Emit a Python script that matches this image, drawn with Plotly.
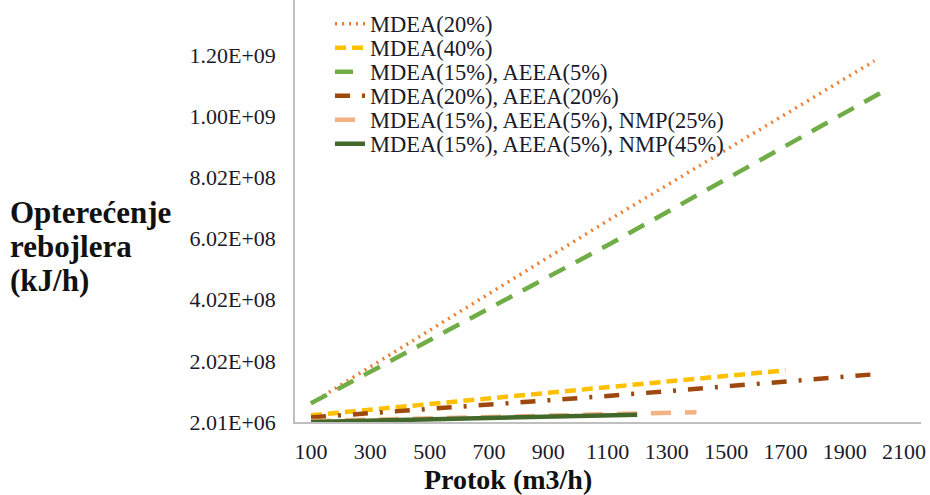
import plotly.graph_objects as go

# Data
series_names = [
    "MDEA(20%)",
    "MDEA(40%)",
    "MDEA(15%), AEEA(5%)",
    "MDEA(20%), AEEA(20%)",
    "MDEA(15%), AEEA(5%), NMP(25%)",
    "MDEA(15%), AEEA(5%), NMP(45%)",
]
x_mdea20 = [100, 1100, 2000]
y_mdea20 = [6.3e7, 6.6e8, 1.183e9]
x_mdea40 = [100, 1100, 1700]
y_mdea40 = [2.4e7, 1.16e8, 1.71e8]
x_mdea15_aeea5 = [100, 1100, 2050]
y_mdea15_aeea5 = [6.3e7, 5.8e8, 1.094e9]
x_mdea20_aeea20 = [100, 1100, 2000]
y_mdea20_aeea20 = [1.7e7, 8.7e7, 1.58e8]
x_nmp25 = [100, 800, 1400]
y_nmp25 = [5e6, 2.0e7, 3.4e7]
x_nmp45 = [100, 800, 1200]
y_nmp45 = [2e6, 1.9e7, 2.6e7]

y_tickvals = [2.01e6, 2.02e8, 4.02e8, 6.02e8, 8.02e8, 1.002e9, 1.202e9]
y_ticktext = ["2.01E+06", "2.02E+08", "4.02E+08", "6.02E+08", "8.02E+08", "1.00E+09", "1.20E+09"]
x_tickvals = [100, 300, 500, 700, 900, 1100, 1300, 1500, 1700, 1900, 2100]
y_title_lines = ["Opterećenje", "rebojlera", "(kJ/h)"]
x_title = "Protok (m3/h)"

xs = [x_mdea20, x_mdea40, x_mdea15_aeea5, x_mdea20_aeea20, x_nmp25, x_nmp45]
ys = [y_mdea20, y_mdea40, y_mdea15_aeea5, y_mdea20_aeea20, y_nmp25, y_nmp45]
styles = [
    dict(color="#ED7D31", width=3.5, dash="2px,5px"),
    dict(color="#FFC000", width=4.5, dash="11px,6px"),
    dict(color="#70AD47", width=4.5, dash="18px,12px"),
    dict(color="#9E480E", width=4.5, dash="15px,12px,3px,12px"),
    dict(color="#F4B183", width=4.5, dash="20px,14px"),
    dict(color="#43682B", width=4.5),
]

SERIF = "Liberation Serif"
L, R, T, B = 295, 9, 0, 73
W, H = 930, 495
PW, PH = W - L - R, H - T - B

fig = go.Figure()
legend_ids = ["legend", "legend2", "legend3", "legend4", "legend5", "legend6"]
for name, x, y, st, lg in zip(series_names, xs, ys, styles, legend_ids):
    fig.add_trace(go.Scatter(x=x, y=y, mode="lines", name=name, line=st, legend=lg))

legend_rows_px = [24, 48, 72, 96, 120, 144]
legend_layout = {}
for lg, py in zip(legend_ids, legend_rows_px):
    legend_layout[lg] = dict(
        x=(330 - L) / PW, y=(PH - py) / PH, xanchor="left", yanchor="middle",
        bgcolor="rgba(0,0,0,0)", font=dict(family=SERIF, size=22.5, color="#1a1a2a"),
        itemwidth=30,
    )

annotations = [
    dict(text="<b>%s</b>" % x_title, xref="paper", yref="paper",
         x=(508 - L) / PW, y=-(479 - PH) / PH, xanchor="center", yanchor="middle",
         showarrow=False, font=dict(family=SERIF, size=28, color="#111")),
]
for line, py in zip(y_title_lines, [213, 246, 280]):
    annotations.append(dict(
        text="<b>%s</b>" % line, xref="paper", yref="paper",
        x=-(L - 8) / PW, y=(PH - py) / PH, xanchor="left", yanchor="middle",
        align="left", showarrow=False, font=dict(family=SERIF, size=31, color="#111")))

fig.update_layout(
    width=W, height=H,
    template="none",
    margin=dict(l=L, r=R, t=T, b=B, autoexpand=False),
    paper_bgcolor="white", plot_bgcolor="white",
    font=dict(family=SERIF, size=22, color="#1a1a2a"),
    showlegend=True,
    xaxis=dict(
        range=[46, 2157], tickvals=x_tickvals, ticktext=[str(v) for v in x_tickvals],
        showgrid=False, zeroline=False, showline=True, linecolor="#BFBFBF", linewidth=1.5,
        ticks="", ticklabelstandoff=9, automargin=False,
        tickfont=dict(family=SERIF, size=22, color="#1a1a2a"),
    ),
    yaxis=dict(
        range=[2.01e6, 1.382e9], tickvals=y_tickvals, ticktext=y_ticktext,
        showgrid=False, zeroline=False, showline=True, linecolor="#BFBFBF", linewidth=1.5,
        ticks="", ticklabelstandoff=13, automargin=False,
        tickfont=dict(family=SERIF, size=22, color="#1a1a2a"),
    ),
    annotations=annotations,
    **legend_layout,
)

fig.write_html(
    "out.html",
    config={"displayModeBar": False},
    post_script="document.body.style.margin='0';document.body.style.overflow='hidden';",
)
